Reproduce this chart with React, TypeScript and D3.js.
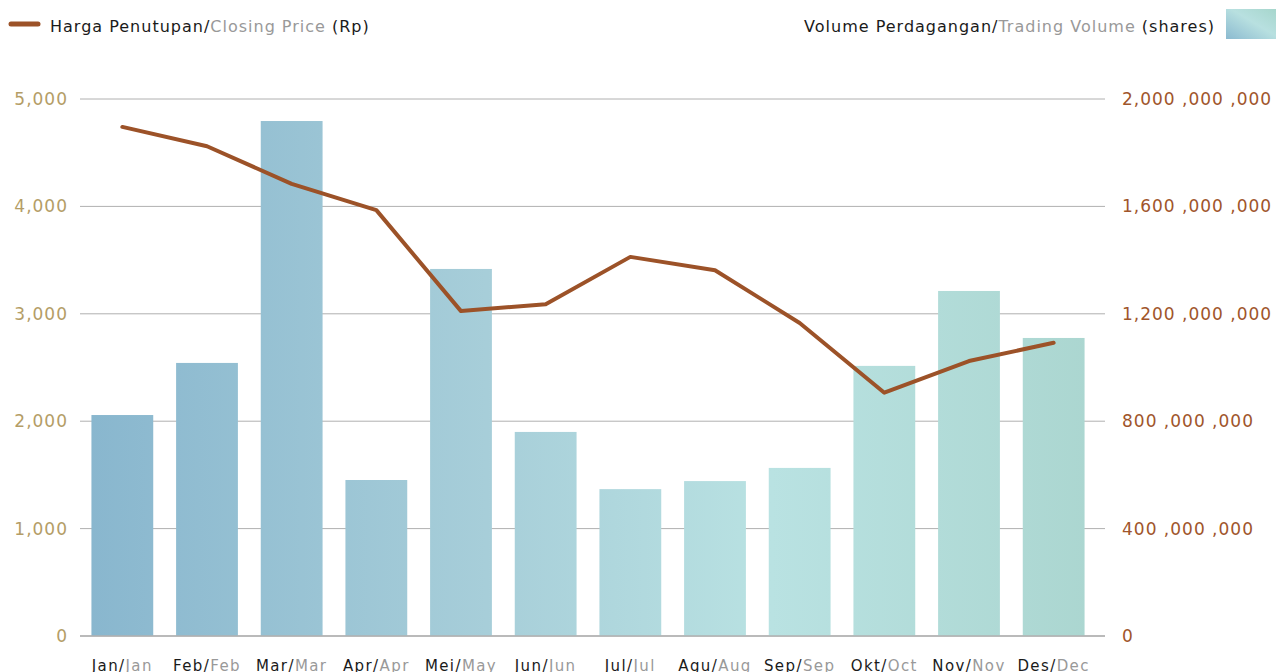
import React, { useEffect, useRef } from 'react';
import * as d3 from 'd3';

const monthsId = ['Jan', 'Feb', 'Mar', 'Apr', 'Mei', 'Jun', 'Jul', 'Agu', 'Sep', 'Okt', 'Nov', 'Des'];
const monthsEn = ['Jan', 'Feb', 'Mar', 'Apr', 'May', 'Jun', 'Jul', 'Aug', 'Sep', 'Oct', 'Nov', 'Dec'];
const volume = [823e6, 1017e6, 1918e6, 581e6, 1367e6, 760e6, 547e6, 577e6, 626e6, 1006e6, 1285e6, 1110e6];
const closePrice = [4740, 4560, 4210, 3965, 3025, 3090, 3530, 3405, 2915, 2265, 2560, 2730];
const leftTicks = [0, 1000, 2000, 3000, 4000, 5000];
const rightTicks = [0, 400e6, 800e6, 1200e6, 1600e6, 2000e6];
const rightTickLabels = ['0', '400 ,000 ,000', '800 ,000 ,000', '1,200 ,000 ,000', '1,600 ,000 ,000', '2,000 ,000 ,000'];

const FONT = '"DejaVu Sans", sans-serif';

const App = () => {
  const ref = useRef(null);

  useEffect(() => {
    const width = 1284, height = 672;
    const left = 80, right = 1105, top = 99, bottom = 636;

    d3.select(ref.current).selectAll('*').remove();
    const svg = d3.select(ref.current)
      .append('svg')
      .attr('width', width)
      .attr('height', height)
      .style('display', 'block')
      .style('font-family', FONT);

    const defs = svg.append('defs');
    const grad = defs.append('linearGradient')
      .attr('id', 'barGrad')
      .attr('gradientUnits', 'userSpaceOnUse')
      .attr('x1', 80).attr('x2', 1096).attr('y1', 0).attr('y2', 0);
    [[0, '#88b6ce'], [0.4, '#a7ced9'], [0.68, '#b9e2e2'], [1, '#abd6d0']].forEach(([o, c]) => {
      grad.append('stop').attr('offset', o).attr('stop-color', c);
    });
    const sw = defs.append('linearGradient')
      .attr('id', 'swatchGrad')
      .attr('x1', 0).attr('y1', 1).attr('x2', 1).attr('y2', 0);
    [[0, '#8bbad0'], [0.55, '#b8e0e0'], [1, '#a6d6cc']].forEach(([o, c]) => {
      sw.append('stop').attr('offset', o).attr('stop-color', c);
    });

    const x = d3.scaleBand()
      .domain(monthsId)
      .range([80, 1096])
      .paddingInner(0.27)
      .paddingOuter(0.135);
    const yL = d3.scaleLinear().domain([0, 5000]).range([bottom, top]);
    const yR = d3.scaleLinear().domain([0, 2e9]).range([bottom, top]);

    // gridlines
    svg.append('g')
      .selectAll('line')
      .data(leftTicks)
      .enter()
      .append('line')
      .attr('x1', left)
      .attr('x2', right)
      .attr('y1', d => yL(d))
      .attr('y2', d => yL(d))
      .attr('stroke', '#b0b0b0')
      .attr('stroke-width', 1);

    // bars
    svg.append('g')
      .selectAll('rect')
      .data(volume)
      .enter()
      .append('rect')
      .attr('x', (d, i) => x(monthsId[i]))
      .attr('y', d => yR(d))
      .attr('width', x.bandwidth())
      .attr('height', d => bottom - yR(d))
      .attr('fill', 'url(#barGrad)');

    // bottom axis line
    svg.append('line')
      .attr('x1', left).attr('x2', right)
      .attr('y1', bottom).attr('y2', bottom)
      .attr('stroke', '#b0b0b0').attr('stroke-width', 1.5);

    // price line
    const line = d3.line()
      .x((d, i) => x(monthsId[i]) + x.bandwidth() / 2)
      .y(d => yL(d));
    svg.append('path')
      .datum(closePrice)
      .attr('d', line)
      .attr('fill', 'none')
      .attr('stroke', '#9c5228')
      .attr('stroke-width', 4)
      .attr('stroke-linejoin', 'round')
      .attr('stroke-linecap', 'round');

    // left axis labels
    svg.append('g')
      .selectAll('text')
      .data(leftTicks)
      .enter()
      .append('text')
      .attr('x', 68)
      .attr('y', d => yL(d))
      .attr('dy', '0.35em')
      .attr('text-anchor', 'end')
      .style('font-size', '17px')
      .style('letter-spacing', '1px')
      .style('fill', '#b49d66')
      .text(d => d3.format(',')(d));

    // right axis labels
    svg.append('g')
      .selectAll('text')
      .data(rightTicks)
      .enter()
      .append('text')
      .attr('x', 1122)
      .attr('y', d => yR(d))
      .attr('dy', '0.35em')
      .style('font-size', '17px')
      .style('letter-spacing', '1px')
      .style('fill', '#a0552b')
      .text((d, i) => rightTickLabels[i]);

    // x labels
    const xl = svg.append('g')
      .selectAll('text')
      .data(monthsId)
      .enter()
      .append('text')
      .attr('x', d => x(d) + x.bandwidth() / 2)
      .attr('y', 671)
      .attr('text-anchor', 'middle')
      .style('font-size', '15px')
      .style('letter-spacing', '1.4px');
    xl.append('tspan').style('fill', '#1a1a1a').text(d => d + '/');
    xl.append('tspan').style('fill', '#999').text((d, i) => monthsEn[i]);

    // legend left
    svg.append('line')
      .attr('x1', 11).attr('x2', 38)
      .attr('y1', 24).attr('y2', 24)
      .attr('stroke', '#9c5228').attr('stroke-width', 5)
      .attr('stroke-linecap', 'round');
    const lg1 = svg.append('text')
      .attr('x', 50).attr('y', 32)
      .style('font-size', '16px')
      .style('letter-spacing', '1px');
    lg1.append('tspan').style('fill', '#1a1a1a').text('Harga Penutupan/');
    lg1.append('tspan').style('fill', '#999').text('Closing Price');
    lg1.append('tspan').style('fill', '#1a1a1a').text(' (Rp)');

    // legend right
    const lg2 = svg.append('text')
      .attr('x', 1215).attr('y', 32)
      .attr('text-anchor', 'end')
      .style('font-size', '16px')
      .style('letter-spacing', '1px');
    lg2.append('tspan').style('fill', '#1a1a1a').text('Volume Perdagangan/');
    lg2.append('tspan').style('fill', '#999').text('Trading Volume');
    lg2.append('tspan').style('fill', '#1a1a1a').text(' (shares)');
    svg.append('rect')
      .attr('x', 1226).attr('y', 9)
      .attr('width', 50).attr('height', 30)
      .attr('fill', 'url(#swatchGrad)');
  }, []);

  return (
    <div ref={ref} style={{ position: 'absolute', left: 0, top: 0 }} />
  );
};

export default App;
